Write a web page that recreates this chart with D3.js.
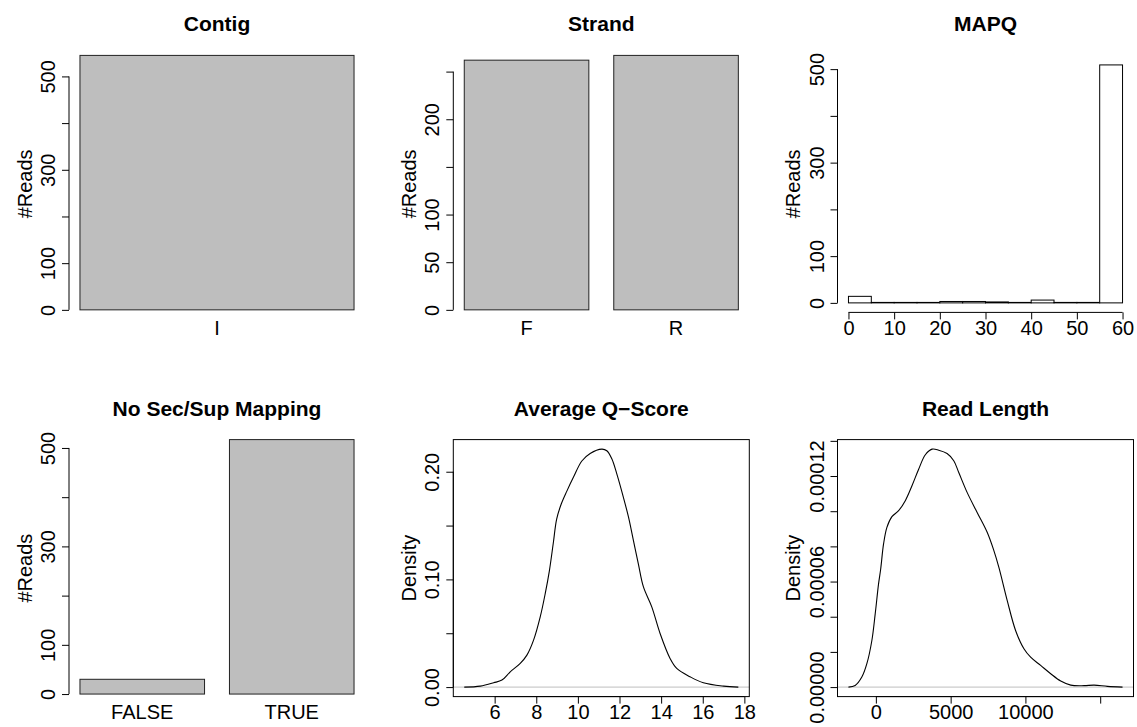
<!DOCTYPE html>
<html>
<head>
<meta charset="utf-8">
<script src="https://cdn.jsdelivr.net/npm/d3@7"></script>
<style>
body { margin: 0; background: #fff; }
svg { display: block; font-family: "Liberation Sans", Arial, Helvetica, sans-serif; }
</style>
</head>
<body>
<script>
// bar counts
const contigNames = ["I"];
const contigCounts = [545];
const strandNames = ["F", "R"];
const strandCounts = [262, 267];
const mappingNames = ["FALSE", "TRUE"];
const mappingCounts = [30, 517];

// MAPQ histogram
const mapqBreaks = [0, 5, 10, 15, 20, 25, 30, 35, 40, 45, 50, 55, 60];
const mapqCounts = [14, 1, 1, 1, 3, 3, 2, 1, 6, 1, 1, 509];

// density curves
const qscoreX = [4.54, 5.31, 5.95, 6.35, 6.75, 7.23, 7.55, 7.87, 8.19, 8.43, 8.63, 8.82, 8.98, 9.2, 9.47, 9.79,
    10.19, 10.59, 11.15, 11.39, 11.63, 11.87, 12.19, 12.43, 12.67, 12.91, 13.15, 13.55, 13.95, 14.43,
    14.75, 15.39, 16.03, 17.0, 17.71];
const qscoreDensity = [0, 0.0009, 0.004, 0.0065, 0.0142, 0.022, 0.0297, 0.0436, 0.0652, 0.0868, 0.108,
    0.134, 0.156, 0.170, 0.182, 0.195, 0.210, 0.217, 0.221, 0.2195, 0.212, 0.198, 0.176, 0.158, 0.136, 0.114,
    0.093, 0.0745, 0.0498, 0.0266, 0.0173, 0.0096, 0.004, 0.0009, 0];

const readLenX = [-1833, -1386, -939, -603, -268, -45, 179, 320, 514, 738, 1073, 1520, 1967, 2414, 2861,
    3308, 3755, 4202, 4761, 5208, 5543, 6101, 6772, 7443, 7890, 8225, 8784, 9342, 9901, 10348, 11019,
    11689, 12360, 13030, 13924, 14595, 15489, 16494];
const readLenDensity = [0, 0.0000009, 0.0000057, 0.0000133, 0.0000265, 0.0000416, 0.0000587, 0.000067,
    0.0000814, 0.0000908, 0.0000969, 0.0001003, 0.000106, 0.0001145, 0.0001239, 0.0001321, 0.0001353,
    0.0001347, 0.0001328, 0.0001287, 0.000122, 0.0001107, 0.0000993, 0.000088, 0.0000776, 0.0000681,
    0.0000492, 0.0000322, 0.0000218, 0.000017, 0.0000123, 0.0000076, 0.0000034, 0.0000011, 0.0000008,
    0.0000011, 0.0000004, 0];

// ticks and which of them carry a label
const countTicks = [0, 100, 200, 300, 400, 500];
const countLabels = [0, 100, 300, 500];
const strandTicks = [0, 50, 100, 150, 200, 250];
const strandLabels = [0, 50, 100, 200];
const mapqXTicks = [0, 10, 20, 30, 40, 50, 60];
const qscoreXTicks = [6, 8, 10, 12, 14, 16, 18];
const qscoreYTicks = [0, 0.05, 0.1, 0.15, 0.2];
const qscoreYLabels = [0, 0.1, 0.2];
const readLenXTicks = [0, 5000, 10000, 15000];
const readLenXLabels = [0, 5000, 10000];
const readLenYTicks = [0, 0.00002, 0.00004, 0.00006, 0.00008, 0.0001, 0.00012, 0.00014];
const readLenYLabels = [0, 0.00006, 0.00012];

const colX = [69, 453.3, 837.5], rowY = [55.4, 439.6];
const plotW = 296, plotH = 257;

const svg = d3.select("body").append("svg")
    .attr("width", 1137)
    .attr("height", 727);

// R pads each axis range by 4% on both sides
const rExpand = (lo, hi) => { const d = (hi - lo) * 0.04; return [lo - d, hi + d]; };

function panel(col, row, title, ylab) {
    const g = svg.append("g")
        .attr("transform", "translate(" + colX[col] + "," + rowY[row] + ")");
    g.append("text")
        .attr("x", plotW / 2).attr("y", -24)
        .attr("text-anchor", "middle")
        .style("font-weight", "bold").style("font-size", "21px")
        .text(title);
    g.append("text")
        .attr("transform", "translate(-37.5," + plotH / 2 + ") rotate(-90)")
        .attr("text-anchor", "middle")
        .style("font-size", "20px")
        .text(ylab);
    return g;
}

function leftAxis(g, y, ticks, labels, fmt) {
    const ax = g.append("g")
        .call(d3.axisLeft(y).tickValues(ticks).tickSize(7)
            .tickFormat(d => labels.includes(d) ? fmt(d) : ""));
    ax.attr("font-family", null).attr("font-size", null);
    ax.select(".domain").remove();
    ax.append("line")
        .attr("y1", y(ticks[0])).attr("y2", y(ticks[ticks.length - 1]))
        .attr("stroke", "#000");
    ax.selectAll(".tick line").attr("stroke", "#000");
    ax.selectAll(".tick text")
        .attr("x", 0).attr("dy", 0)
        .attr("transform", "translate(-14,0) rotate(-90)")
        .attr("text-anchor", "middle")
        .attr("fill", "#000")
        .style("font-size", "20px");
}

function bottomAxis(g, x, ticks, labels, fmt) {
    const ax = g.append("g")
        .attr("transform", "translate(0," + plotH + ")")
        .call(d3.axisBottom(x).tickValues(ticks).tickSize(7)
            .tickFormat(d => labels.includes(d) ? fmt(d) : ""));
    ax.attr("font-family", null).attr("font-size", null);
    ax.select(".domain").remove();
    ax.append("line")
        .attr("x1", x(ticks[0])).attr("x2", x(ticks[ticks.length - 1]))
        .attr("stroke", "#000");
    ax.selectAll(".tick line").attr("stroke", "#000");
    ax.selectAll(".tick text")
        .attr("y", 22.8).attr("dy", 0)
        .attr("fill", "#000")
        .style("font-size", "20px");
}

function barPanel(col, row, title, names, counts, ticks, labels) {
    const g = panel(col, row, title, "#Reads");
    const n = names.length;
    const top = d3.max(counts);
    const x = d3.scaleLinear().domain(rExpand(0.2, n * 1.2)).range([0, plotW]);
    const y = d3.scaleLinear().domain([-0.01 * top, top]).range([plotH, 0]);

    g.selectAll("rect.bar")
        .data(counts)
        .enter().append("rect")
        .attr("class", "bar")
        .attr("x", (d, i) => x(0.2 + i * 1.2))
        .attr("width", x(1.2) - x(0.2))
        .attr("y", d => y(d))
        .attr("height", d => y(0) - y(d))
        .attr("fill", "#bebebe")
        .attr("stroke", "#222");

    g.selectAll("text.name")
        .data(names)
        .enter().append("text")
        .attr("class", "name")
        .attr("x", (d, i) => x(0.7 + i * 1.2))
        .attr("y", plotH + 22.8)
        .attr("text-anchor", "middle")
        .style("font-size", "20px")
        .text(d => d);

    leftAxis(g, y, ticks, labels, d3.format("d"));
}

function densityPanel(col, row, title, xs, ys, xTicks, xLabels, xFmt, yTicks, yLabels, yFmt) {
    const g = panel(col, row, title, "Density");
    const x = d3.scaleLinear().domain(rExpand(d3.min(xs), d3.max(xs))).range([0, plotW]);
    const y = d3.scaleLinear().domain(rExpand(0, d3.max(ys))).range([plotH, 0]);

    g.append("line")
        .attr("x1", 0).attr("x2", plotW)
        .attr("y1", y(0)).attr("y2", y(0))
        .attr("stroke", "#bebebe");

    const line = d3.line()
        .x(d => x(d[0]))
        .y(d => y(d[1]))
        .curve(d3.curveCatmullRom.alpha(0.5));
    g.append("path")
        .datum(xs.map((v, i) => [v, ys[i]]))
        .attr("d", line)
        .attr("fill", "none")
        .attr("stroke", "#000")
        .attr("stroke-width", 1.1);

    g.append("rect")
        .attr("width", plotW).attr("height", plotH)
        .attr("fill", "none").attr("stroke", "#000");

    bottomAxis(g, x, xTicks, xLabels, xFmt);
    leftAxis(g, y, yTicks, yLabels, yFmt);
}

barPanel(0, 0, "Contig", contigNames, contigCounts, countTicks, countLabels);
barPanel(1, 0, "Strand", strandNames, strandCounts, strandTicks, strandLabels);

// MAPQ histogram
(function () {
    const g = panel(2, 0, "MAPQ", "#Reads");
    const x = d3.scaleLinear().domain(rExpand(0, 60)).range([0, plotW]);
    const y = d3.scaleLinear().domain(rExpand(0, d3.max(mapqCounts))).range([plotH, 0]);
    g.selectAll("rect.bin")
        .data(mapqCounts)
        .enter().append("rect")
        .attr("class", "bin")
        .attr("x", (d, i) => x(mapqBreaks[i]))
        .attr("width", (d, i) => x(mapqBreaks[i + 1]) - x(mapqBreaks[i]))
        .attr("y", d => y(d))
        .attr("height", d => y(0) - y(d))
        .attr("fill", "#fff")
        .attr("stroke", "#000");
    bottomAxis(g, x, mapqXTicks, mapqXTicks, d3.format("d"));
    leftAxis(g, y, countTicks, countLabels, d3.format("d"));
})();

barPanel(0, 1, "No Sec/Sup Mapping", mappingNames, mappingCounts, countTicks, countLabels);

densityPanel(1, 1, "Average Q\u2212Score", qscoreX, qscoreDensity,
    qscoreXTicks, qscoreXTicks, d3.format("d"),
    qscoreYTicks, qscoreYLabels, d3.format(".2f"));

densityPanel(2, 1, "Read Length", readLenX, readLenDensity,
    readLenXTicks, readLenXLabels, d3.format("d"),
    readLenYTicks, readLenYLabels, d3.format(".5f"));
</script>
</body>
</html>
